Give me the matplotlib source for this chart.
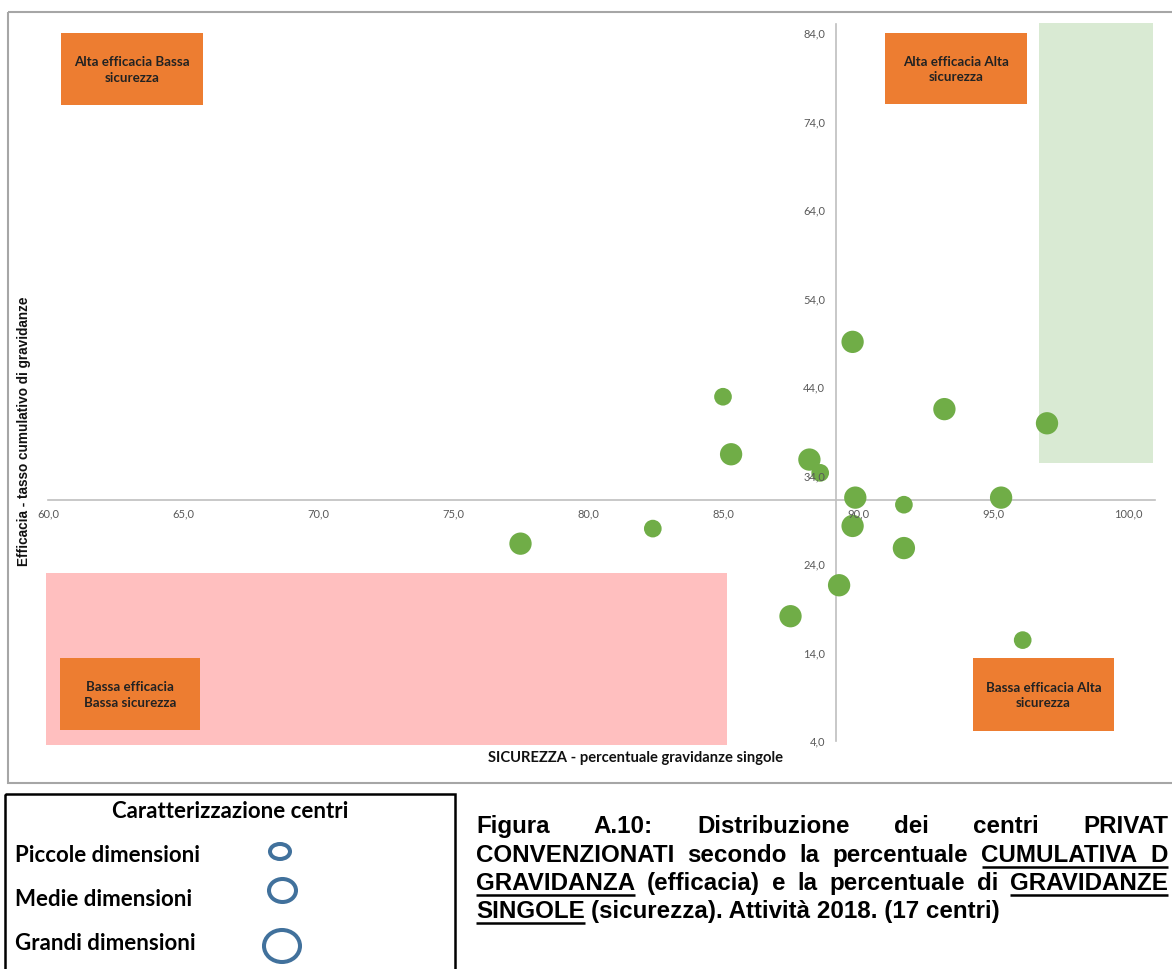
import matplotlib.pyplot as plt
from matplotlib.patches import Rectangle, Ellipse

# dati: sicurezza (% gravidanze singole), efficacia (tasso cumulativo), dimensione centro
sicurezza = [89.8, 85.0, 93.2, 97.0, 85.3, 88.2, 88.6, 89.9, 91.7, 95.3,
             89.8, 91.7, 82.4, 77.5, 89.3, 87.5, 96.1]
efficacia = [49.1, 42.9, 41.5, 39.9, 36.4, 35.8, 34.3, 31.5, 30.7, 31.5,
             28.3, 25.8, 28.0, 26.3, 21.6, 18.1, 15.4]
dimensione = ['G', 'M', 'G', 'G', 'G', 'G', 'M', 'G', 'M', 'G',
              'G', 'G', 'M', 'G', 'G', 'G', 'M']

x_ticks = [60, 65, 70, 75, 80, 85, 90, 95, 100]
y_ticks = [4, 14, 24, 34, 44, 54, 64, 74, 84]
x_cross = 89.2   # media sicurezza
y_cross = 31.2   # media efficacia

x_title = 'SICUREZZA - percentuale gravidanze singole'
y_title = 'Efficacia - tasso cumulativo di gravidanze'
quadranti = ['Alta efficacia Bassa\nsicurezza', 'Alta efficacia Alta\nsicurezza',
             'Bassa efficacia\nBassa sicurezza', 'Bassa efficacia Alta\nsicurezza']
legenda_titolo = 'Caratterizzazione centri'
legenda_voci = ['Piccole dimensioni', 'Medie dimensioni', 'Grandi dimensioni']
didascalia = [
    ['Figura', 'A.10:', 'Distribuzione', 'dei', 'centri', 'PRIVAT'],
    ['CONVENZIONATI', 'secondo', 'la', 'percentuale', 'CUMULATIVA', 'D'],
    ['GRAVIDANZA', '(efficacia)', 'e', 'la', 'percentuale', 'di', 'GRAVIDANZE'],
    ['SINGOLE', '(sicurezza). Attività 2018. (17 centri)'],
]
sottolineate = [(1, 4, 5), (2, 0, 0), (2, 6, 6), (3, 0, 0)]

W, H = 1172, 969
GREEN = '#70AD47'
ORANGE = '#ED7D31'
GRAY = '#BFBFBF'

fig = plt.figure(figsize=(W / 100, H / 100), dpi=100)

# livello di sfondo in pixel (forme, riquadri, didascalia)
bg = fig.add_axes([0, 0, 1, 1], zorder=0)
bg.set_xlim(0, W)
bg.set_ylim(H, 0)
bg.axis('off')


def box(x0, y0, x1, y1, color, **kw):
    bg.add_patch(Rectangle((x0, y0), x1 - x0, y1 - y0, facecolor=color,
                           edgecolor='none', **kw))


# cornice del grafico
bg.add_patch(Rectangle((8, 12), 1250, 771, fill=False, edgecolor='#A6A6A6', lw=1.5))

box(1039, 23, 1153, 463, '#D9EAD3')
box(46, 573, 727, 745, '#FFBFBF')

quad_boxes = [(61, 33, 203, 105), (885, 33, 1027, 104),
              (60, 658, 200, 730), (973, 658, 1114, 731)]
for (x0, y0, x1, y1), txt in zip(quad_boxes, quadranti):
    box(x0, y0, x1, y1, ORANGE)
    bg.text((x0 + x1) / 2, (y0 + y1) / 2 + 1, txt, ha='center', va='center',
            fontsize=9.6, fontweight='bold', family='Lato', color='#222222',
            linespacing=1.35)

bg.text(635, 758, x_title, ha='center', va='center', fontsize=10.6,
        fontweight='bold', family='Lato', color='#111111')
bg.text(24, 431, y_title, ha='center', va='center', rotation=90, fontsize=9.8,
        fontweight='bold', family='Liberation Sans', color='#111111')

# grafico a bolle
ax = fig.add_axes([48 / W, (H - 741) / H, 41 * 27 / W, 81 * 8.85 / H], zorder=1)
ax.set_facecolor('none')
ax.set_xlim(60, 101)
ax.set_ylim(4, 85)
ax.set_axisbelow(False)

size_map = {'M': 162, 'G': 258}
ax.scatter(sicurezza, efficacia, s=[size_map[d] for d in dimensione],
           color=GREEN, edgecolor='none', zorder=2)

for side in ['top', 'right']:
    ax.spines[side].set_visible(False)
ax.spines['left'].set_position(('data', x_cross))
ax.spines['bottom'].set_position(('data', y_cross))
for side in ['left', 'bottom']:
    ax.spines[side].set_color(GRAY)
    ax.spines[side].set_linewidth(1.2)
    ax.spines[side].set_zorder(0.5)

ax.set_xticks(x_ticks)
ax.set_xticklabels([f'{v:.1f}'.replace('.', ',') for v in x_ticks])
ax.set_yticks(y_ticks)
ax.set_yticklabels([f'{v:.1f}'.replace('.', ',') for v in y_ticks])
ax.tick_params(axis='x', length=0, pad=6, labelsize=8, labelcolor='#595959')
ax.tick_params(axis='y', length=0, pad=8, labelsize=8, labelcolor='#595959')
for lab in ax.get_xticklabels() + ax.get_yticklabels():
    lab.set_family('Lato')

# riquadro legenda dimensioni
bg.add_patch(Rectangle((5, 794), 450, 300, fill=False, edgecolor='black', lw=1.8))
bg.text(230, 811, legenda_titolo, ha='center', va='center', fontsize=16,
        fontweight='bold', family='Lato', color='black')
leg_y = [856, 899, 943]
ell = [(280, 851.5, 24, 19), (282.5, 890.5, 31, 27), (282, 946, 40, 36)]
for y, txt, (cx, cy, w, h) in zip(leg_y, legenda_voci, ell):
    bg.text(15, y, txt, ha='left', va='center', fontsize=16, fontweight='bold',
            family='Lato', color='black')
    bg.add_patch(Ellipse((cx, cy), w - 4, h - 4, fill=False,
                         edgecolor='#41719C', lw=2.9))

# didascalia giustificata: parole misurate e distribuite fra i margini
left, right = 476, 1168
basi = [833, 862, 890, 918]
righe = []
for base, parole in zip(basi, didascalia):
    righe.append([bg.text(left, base, p, ha='left', va='baseline', fontsize=17.4,
                          fontweight='bold', family='Liberation Sans',
                          color='black') for p in parole])

fig.canvas.draw()
renderer = fig.canvas.get_renderer()
for i, testi in enumerate(righe):
    larg = [t.get_window_extent(renderer).width for t in testi]
    if i < 3:
        gap = (right - left - sum(larg)) / (len(testi) - 1)
    else:
        gap = 6.5
    x = left
    for t, w in zip(testi, larg):
        t.set_x(x)
        x += w + gap

fig.canvas.draw()
for i, a, b in sottolineate:
    x0 = righe[i][a].get_window_extent(renderer).x0
    x1 = righe[i][b].get_window_extent(renderer).x1
    y = basi[i] + 5
    bg.plot([x0, x1], [y, y], color='black', lw=1.8, solid_capstyle='butt')

fig.savefig('out.png', dpi=100)
